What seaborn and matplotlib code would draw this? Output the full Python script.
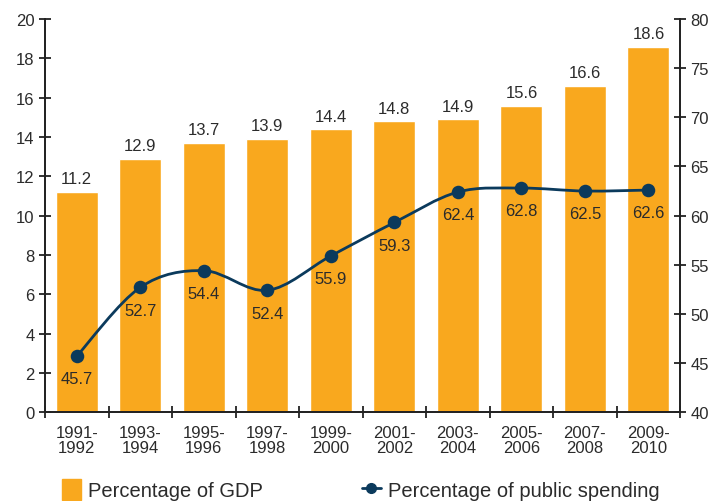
import matplotlib
matplotlib.use("Agg")
import matplotlib.pyplot as plt
import seaborn as sns
import pandas as pd
import numpy as np
from matplotlib.path import Path
from matplotlib.patches import PathPatch, Patch
from matplotlib.lines import Line2D

periods = ["1991-\n1992", "1993-\n1994", "1995-\n1996", "1997-\n1998", "1999-\n2000",
           "2001-\n2002", "2003-\n2004", "2005-\n2006", "2007-\n2008", "2009-\n2010"]
gdp_pct = [11.2, 12.9, 13.7, 13.9, 14.4, 14.8, 14.9, 15.6, 16.6, 18.6]
spending_pct = [45.7, 52.7, 54.4, 52.4, 55.9, 59.3, 62.4, 62.8, 62.5, 62.6]

BAR = "#F9A81E"
LINE = "#0B3A5C"
TXT = "#2b2b2b"
FS = 12

sns.set_theme(style="white")
plt.rcParams["font.family"] = ["Liberation Sans", "DejaVu Sans"]

df = pd.DataFrame({"period": periods, "gdp": gdp_pct, "spend": spending_pct})

fig = plt.figure(figsize=(7.1, 5.02), dpi=100)
ax = fig.add_axes([0.0634, 0.177, 0.8946, 0.783])
sns.barplot(data=df, x="period", y="gdp", color=BAR, saturation=1, width=0.66, ax=ax)
ax.set_xlim(-0.5, 9.5)
ax.set_ylim(0, 20)
ax.set_yticks(range(0, 21, 2))
ax.set_xlabel("")
ax.set_ylabel("")
for i, v in enumerate(gdp_pct):
    ax.annotate(f"{v}", (i, v), xytext=(0, 4), textcoords="offset points",
                ha="center", va="bottom", fontsize=FS, color=TXT)

ax2 = ax.twinx()
ax2.set_ylim(40, 80)
ax2.set_yticks(range(40, 81, 5))
xs = np.arange(len(spending_pct), dtype=float)
ys = np.array(spending_pct, dtype=float)

# smooth curve (cardinal Bezier through data points)
verts = [(xs[0], ys[0])]
codes = [Path.MOVETO]
n = len(xs)
for i in range(n - 1):
    p0 = np.array([xs[max(i - 1, 0)], ys[max(i - 1, 0)]])
    p1 = np.array([xs[i], ys[i]])
    p2 = np.array([xs[i + 1], ys[i + 1]])
    p3 = np.array([xs[min(i + 2, n - 1)], ys[min(i + 2, n - 1)]])
    c1 = p1 + (p2 - p0) / 6.0
    c2 = p2 - (p3 - p1) / 6.0
    verts += [tuple(c1), tuple(c2), tuple(p2)]
    codes += [Path.CURVE4] * 3
ax2.add_patch(PathPatch(Path(verts, codes), facecolor="none", edgecolor=LINE, lw=2, zorder=3))
sns.scatterplot(x=xs, y=ys, color=LINE, s=95, edgecolor=LINE, linewidth=0, zorder=4, ax=ax2, legend=False)
for x, v in zip(xs, ys):
    ax2.annotate(f"{v}", (x, v), xytext=(0, -11), textcoords="offset points",
                 ha="center", va="top", fontsize=FS, color=TXT)
ax2.set_ylabel("")

for a in (ax, ax2):
    a.spines["top"].set_visible(False)
    for s in ("left", "right", "bottom"):
        a.spines[s].set_color("#222222")
        a.spines[s].set_linewidth(1.3)
    a.tick_params(axis="y", direction="inout", length=9, width=1.3, color="#222222",
                  labelsize=FS, labelcolor=TXT, pad=3)
ax.tick_params(axis="y", left=True)
ax2.tick_params(axis="y", right=True)

ax.set_xticks(np.arange(10))
ax.set_xticklabels(periods, fontsize=FS, color=TXT, linespacing=1.05)
ax.set_xticks(np.arange(-0.5, 10, 1), minor=True)
ax.tick_params(axis="x", which="major", length=0, pad=9)
ax.tick_params(axis="x", which="minor", direction="inout", length=9, width=1.3, color="#222222", bottom=True)

handles = [Patch(facecolor=BAR, edgecolor=BAR),
           Line2D([0], [0], color=LINE, lw=2, marker="o", markersize=7)]
fig.legend(handles, ["Percentage of GDP", "Percentage of public spending"],
           loc="lower left", bbox_to_anchor=(0.062, -0.035), ncol=2, frameon=False,
           fontsize=14.5, handlelength=0.95, handleheight=1.2, columnspacing=4.9,
           handletextpad=0.35, labelcolor=TXT)

fig.savefig("out.png", dpi=100)
